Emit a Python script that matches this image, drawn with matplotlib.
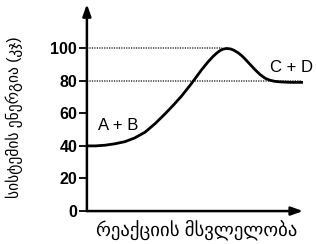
import numpy as np
import matplotlib.pyplot as plt

# energy profile
progress = [0.0, 0.4, 0.83, 1.3, 1.76, 2.2, 2.69, 3.15, 3.61, 4.0, 4.38, 4.81, 5.1, 5.31,
            5.6, 5.83, 6.0, 6.15, 6.3, 6.47, 6.65, 6.8, 6.99, 7.15, 7.3, 7.55, 7.8,
            8.01, 8.25, 8.47, 8.7, 8.94, 9.4, 9.94]
energy = [40, 40, 40.4, 41.3, 42.6, 44.8, 48.4, 53.6, 59.6, 65, 70.6, 77.8, 83, 86.8,
          91.5, 94.8, 96.9, 98.4, 99.4, 99.8, 99.5, 98.7, 97.2, 95.5, 93.6, 90, 86.5,
          83.8, 81.5, 80.3, 79.6, 79.3, 79, 79]
yticks = [0, 20, 40, 60, 80, 100]
peak_level = 100
product_level = 80

fam = ['Liberation Sans', 'DejaVu Sans']

fig = plt.figure(figsize=(3.16, 2.44), dpi=100)
ax = fig.add_axes([0.275, 0.135, 0.684, 0.848])
ax.set_xlim(0, 10)
ax.set_ylim(0, 127)
for s in ax.spines.values():
    s.set_visible(False)

# axes with arrows
ax.annotate('', xy=(10, 0), xytext=(0, 0),
            arrowprops=dict(arrowstyle='-|>,head_length=0.7,head_width=0.25', lw=1.8, color='black',
                            shrinkA=0, shrinkB=0))
ax.annotate('', xy=(0, 127), xytext=(0, 0),
            arrowprops=dict(arrowstyle='-|>,head_length=0.7,head_width=0.25', lw=1.8, color='black',
                            shrinkA=0, shrinkB=0))

# dotted reference lines
ax.plot([0, 6.25], [peak_level, peak_level], color='#333333', lw=1.1, ls=(0, (0.8, 0.8)))
ax.plot([0, 9.9], [product_level, product_level], color='#333333', lw=1.1, ls=(0, (0.8, 0.8)))

ax.plot(progress, energy, color='black', lw=2.0, solid_joinstyle='round')

ax.set_xticks([])
ax.set_yticks(yticks)
ax.set_yticklabels([str(v) for v in yticks], family=fam, fontsize=11.5, fontweight='bold')
ax.tick_params(axis='y', direction='out', length=6, width=1.3, pad=1)

ax.text(1.46, 52.5, 'A + B', family=fam, fontsize=12, ha='center', va='center')
ax.text(9.47, 88, 'C + D', family=fam, fontsize=12, ha='center', va='center')

fig.text(0.624, 0.06, 'რეაქციის მსვლელობა', family=fam, fontsize=13.5,
         ha='center', va='center')
fig.text(0.045, 0.52, 'სისტემის ენერგია (კჯ)', family=fam, fontsize=11.2,
         ha='center', va='center', rotation=90)

fig.savefig('out.png', dpi=100)
